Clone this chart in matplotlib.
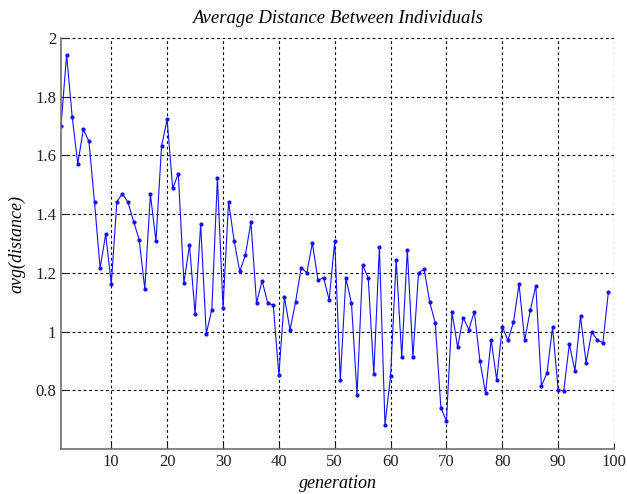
import matplotlib
matplotlib.use("Agg")
import matplotlib.pyplot as plt

generation = list(range(1, 100))
avg_distance = [
    1.70, 1.943, 1.732, 1.572, 1.689, 1.648, 1.440, 1.216, 1.332, 1.162,
    1.443, 1.470, 1.440, 1.375, 1.313, 1.145, 1.468, 1.308, 1.632, 1.723,
    1.488, 1.538, 1.166, 1.295, 1.060, 1.366, 0.993, 1.075, 1.523, 1.081,
    1.443, 1.308, 1.205, 1.260, 1.373, 1.097, 1.173, 1.098, 1.090, 0.852,
    1.117, 1.006, 1.102, 1.218, 1.200, 1.302, 1.175, 1.184, 1.108, 1.308,
    0.836, 1.182, 1.096, 0.785, 1.227, 1.182, 0.856, 1.288, 0.683, 0.849,
    1.245, 0.913, 1.278, 0.913, 1.200, 1.213, 1.101, 1.029, 0.741, 0.695,
    1.066, 0.947, 1.048, 1.007, 1.068, 0.899, 0.791, 0.972, 0.836, 1.017,
    0.970, 1.032, 1.162, 0.970, 1.072, 1.157, 0.815, 0.859, 1.015, 0.802,
    0.798, 0.958, 0.867, 1.052, 0.893, 0.998, 0.973, 0.961, 1.136,
]
xticks = list(range(10, 101, 10))
yticks = [0.8, 1.0, 1.2, 1.4, 1.6, 1.8, 2.0]
ytick_labels = ["0.8", "1", "1.2", "1.4", "1.6", "1.8", "2"]

plt.rcParams['font.family'] = ['Liberation Serif', 'DejaVu Serif']

fig = plt.figure(figsize=(6.27, 4.94), dpi=100)
ax = fig.add_axes([0.0973, 0.091, 0.882, 0.832])

ax.plot(generation, avg_distance, color='#1010ff', linewidth=0.8,
        marker='.', markersize=4)

ax.set_xlim(1, 100)
ax.set_ylim(0.6, 2.0)
ax.set_xticks(xticks)
ax.set_yticks(yticks)
ax.set_yticklabels(ytick_labels)
ax.tick_params(direction='in', length=4, labelsize=12, colors='#222222')

ax.grid(True, color='black', linestyle=(0, (2.5, 2.5)), linewidth=0.8)
ax.spines['top'].set_visible(False)
ax.spines['right'].set_visible(False)
for s in ['left', 'bottom']:
    ax.spines[s].set_color('#707070')
    ax.spines[s].set_linewidth(1.2)

ax.set_title("Average Distance Between Individuals", fontsize=13.5, style='italic', pad=11)
ax.set_xlabel("generation", fontsize=13, style='italic', labelpad=4)
ax.set_ylabel("avg(distance)", fontsize=13, style='italic', labelpad=7)

fig.savefig("out.png", dpi=100)
